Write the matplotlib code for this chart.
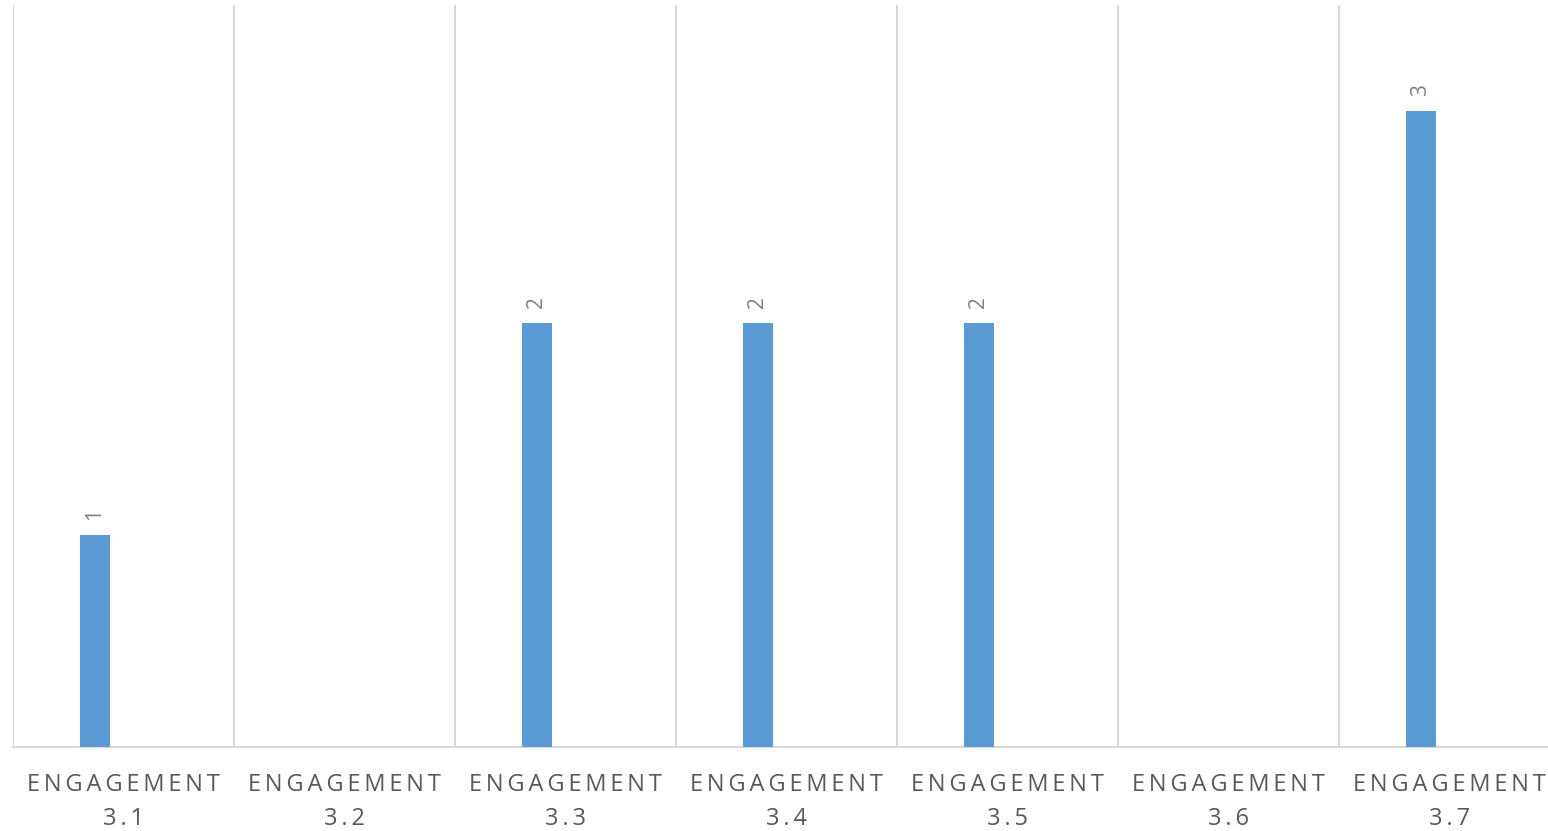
import matplotlib
matplotlib.use("Agg")
import matplotlib.pyplot as plt
import numpy as np

categories = ["ENGAGEMENT 3.1", "ENGAGEMENT 3.2", "ENGAGEMENT 3.3", "ENGAGEMENT 3.4",
              "ENGAGEMENT 3.5", "ENGAGEMENT 3.6", "ENGAGEMENT 3.7"]
values = [1, None, 2, 2, 2, None, 3]

BAR_COLOR = "#5B9BD5"
GRID_COLOR = "#D9D9D9"
TEXT_COLOR = "#595959"
FAMILY = ["Open Sans", "DejaVu Sans"]

fig = plt.figure(figsize=(15.48, 8.31), dpi=100)
W, H = 1548, 831
left, right, top, bottom = 13, 1560, 5, 747
ax = fig.add_axes([left / W, 1 - bottom / H, (right - left) / W, (bottom - top) / H])

x = np.arange(len(categories))
offset = -0.129
width = 0.136
for xi, v in zip(x, values):
    if v is None:
        continue
    ax.bar(xi + offset, v, width=width, color=BAR_COLOR, zorder=3)
    ax.annotate(str(v), (xi + offset, v), xytext=(0, 11), textcoords="offset points",
                rotation=90, ha="center", va="bottom", color="#7F7F7F",
                fontsize=15, family=FAMILY)

ax.set_xlim(-0.5, len(categories) - 0.5)
ax.set_ylim(0, 3.5)

SEP = "\u2009"

def spaced(s):
    word, num = s.split(" ")
    return SEP.join(word) + "\n" + SEP.join(num)

ax.set_xticks(x)
ax.set_xticklabels([spaced(c) for c in categories], color=TEXT_COLOR, fontsize=17,
                   family=FAMILY, linespacing=1.55)
ax.tick_params(axis="x", length=0, pad=19)
ax.set_xticks(np.arange(len(categories) + 1) - 0.5, minor=True)
ax.tick_params(axis="x", which="minor", length=0)
ax.grid(True, which="minor", axis="x", color=GRID_COLOR, linewidth=1.5, zorder=0)
ax.set_yticks([])

for s in ["top", "right", "left"]:
    ax.spines[s].set_visible(False)
ax.spines["bottom"].set_color(GRID_COLOR)
ax.spines["bottom"].set_linewidth(1.5)

fig.savefig("out.png", dpi=100)
